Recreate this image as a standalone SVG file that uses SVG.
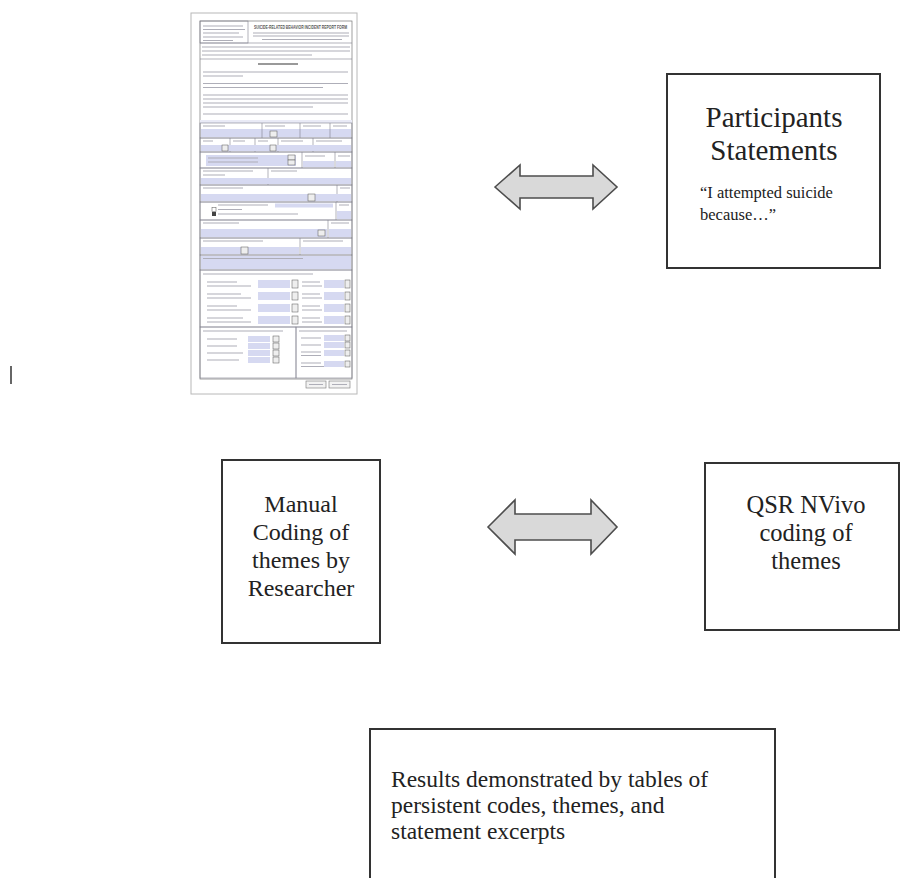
<svg xmlns="http://www.w3.org/2000/svg" width="900" height="878" viewBox="0 0 900 878">
<style>
.box{fill:#fff;stroke:#333;stroke-width:2}
.arrow{fill:#d9d9d9;stroke:#4d4d4d;stroke-width:1.6;stroke-linejoin:miter}
.lbl{font-family:"Liberation Serif","Times New Roman",serif;fill:#222}
.tl{fill:none;stroke:#aeaeb8;stroke-width:1.2}
.lav{fill:#d6d9f1}
.cell{fill:none;stroke:#80808e;stroke-width:0.6}
.dd{fill:#eeeeee;stroke:#555;stroke-width:0.5}
.cb{fill:#fff;stroke:#555;stroke-width:0.5}
</style>
<rect width="900" height="878" fill="#fff"/>

<g id="form">
  <rect x="191" y="13" width="166" height="381" fill="#fff" stroke="#b8b8b8" stroke-width="1"/>
  <rect x="200" y="21" width="152" height="358" fill="none" stroke="#777" stroke-width="0.7"/>
  <rect x="200" y="21" width="48" height="22" class="cell"/>
  <path class="tl" d="M203 26h40M203 29.5h42M203 33h36M203 37h40M203 40.5h30"/>
  <text x="254" y="29" font-family="Liberation Sans, Arial, sans-serif" font-size="6" font-weight="bold" fill="#555" textLength="93" lengthAdjust="spacingAndGlyphs">SUICIDE-RELATED BEHAVIOR INCIDENT REPORT FORM</text>
  <path class="tl" d="M253 33h96M253 36h96M262 39.5h80"/>
  <line x1="200" y1="43" x2="352" y2="43" class="cell"/>
  <path class="tl" d="M202 47h148M202 51h148M202 55h110"/>
  <line x1="200" y1="59" x2="352" y2="59" class="cell"/>
  <path d="M258 64h40" stroke="#777" stroke-width="1.6"/>
  <path class="tl" d="M203 72h145M203 76h40M203 83.5h145M203 87.5h120M203 95h145M203 99h145M203 103h145M203 107h110M203 114h145"/>
  <rect x="200" y="120" width="152" height="3" fill="#e9eaf6"/>
  <rect x="200" y="123" width="152" height="15" class="cell"/>
  <rect x="201" y="129" width="150" height="8" class="lav"/>
  <path class="cell" d="M262 123v15M300 123v15M330 123v15"/>
  <path class="tl" d="M203 126h22M265 126h20M303 126h18M333 126h14"/>
  <rect x="270" y="131" width="7" height="6" class="dd"/>

  <rect x="200" y="138" width="152" height="14" class="cell"/>
  <path class="cell" d="M230 138v14M255 138v14M278 138v14M313 138v14"/>
  <rect x="201" y="145" width="150" height="6" class="lav"/>
  <path class="tl" d="M203 141h10M233 141h12M258 141h10M281 141h22M316 141h26"/>
  <rect x="222" y="145" width="6" height="6" class="dd"/>
  <rect x="270" y="145" width="6" height="6" class="dd"/>

  <rect x="200" y="152" width="152" height="16" class="cell"/>
  <path class="cell" d="M302 152v16M335 152v16"/>
  <rect x="206" y="155" width="90" height="11" class="lav"/>
  <path class="tl" d="M208 158h50M208 162h50M305 156h20M338 156h12"/>
  <rect x="288" y="155" width="7" height="5" class="dd"/>
  <rect x="288" y="160" width="7" height="5" class="dd"/>
  <rect x="303" y="161" width="31" height="6" class="lav"/>
  <rect x="336" y="161" width="15" height="6" class="lav"/>

  <rect x="200" y="168" width="152" height="17" class="cell"/>
  <path class="cell" d="M268 168v17"/>
  <path class="tl" d="M203 171h50M203 175h22M271 171h26"/>
  <rect x="201" y="178" width="150" height="6" class="lav"/>

  <rect x="200" y="185" width="152" height="17" class="cell"/>
  <path class="cell" d="M337 185v17"/>
  <path class="tl" d="M203 188h40M340 188h10"/>
  <rect x="201" y="194" width="150" height="7" class="lav"/>
  <rect x="308" y="194" width="7" height="7" class="dd"/>

  <rect x="200" y="202" width="152" height="18" class="cell"/>
  <path class="cell" d="M336 202v18"/>
  <path class="tl" d="M218 205h50M218 209.5h24M218 214h80M339 205h10"/>
  <rect x="275" y="203.5" width="58" height="4" class="lav"/>
  <rect x="212" y="207.5" width="4" height="4" class="cb"/>
  <rect x="212" y="212" width="4" height="4" fill="#444"/>
  <rect x="337" y="211" width="14" height="8" class="lav"/>

  <rect x="200" y="220" width="152" height="18" class="cell"/>
  <path class="cell" d="M328 220v18"/>
  <path class="tl" d="M203 223h36M331 223h18"/>
  <rect x="201" y="229" width="126" height="8" class="lav"/>
  <rect x="318" y="230" width="7" height="6" class="dd"/>
  <rect x="329" y="229" width="22" height="8" class="lav"/>

  <rect x="200" y="238" width="152" height="17" class="cell"/>
  <path class="cell" d="M300 238v17"/>
  <path class="tl" d="M203 241h60M303 241h40"/>
  <rect x="201" y="247" width="98" height="7" class="lav"/>
  <rect x="241" y="247" width="7" height="7" class="dd"/>
  <rect x="301" y="247" width="50" height="7" class="lav"/>

  <rect x="200" y="255" width="152" height="15" class="cell"/>
  <rect x="201" y="256" width="150" height="13" class="lav"/>
  <path class="tl" d="M203 258.5h100"/>

  <rect x="200" y="270" width="152" height="57" class="cell"/>
  <path class="tl" d="M203 274h110"/>
  <path class="tl" d="M207 282h30M207 286h44M207 294h34M207 298h44M207 306h30M207 310h44M207 318h36M207 322h44"/>
  <rect x="258" y="280" width="32" height="8" class="lav"/>
  <rect x="258" y="292" width="32" height="8" class="lav"/>
  <rect x="258" y="304" width="32" height="8" class="lav"/>
  <rect x="258" y="316" width="32" height="8" class="lav"/>
  <rect x="292" y="280" width="6" height="8" class="dd"/>
  <rect x="292" y="292" width="6" height="8" class="dd"/>
  <rect x="292" y="304" width="6" height="8" class="dd"/>
  <rect x="292" y="316" width="6" height="8" class="dd"/>
  <path class="tl" d="M302 282h18M302 286h20M302 294h18M302 298h20M302 306h18M302 310h20M302 318h18M302 322h20"/>
  <rect x="324" y="280" width="20" height="8" class="lav"/>
  <rect x="324" y="292" width="20" height="8" class="lav"/>
  <rect x="324" y="304" width="20" height="8" class="lav"/>
  <rect x="324" y="316" width="20" height="8" class="lav"/>
  <rect x="345" y="280" width="5" height="8" class="dd"/>
  <rect x="345" y="292" width="5" height="8" class="dd"/>
  <rect x="345" y="304" width="5" height="8" class="dd"/>
  <rect x="345" y="316" width="5" height="8" class="dd"/>

  <rect x="200" y="327" width="96" height="51" class="cell"/>
  <rect x="296" y="327" width="56" height="51" class="cell"/>
  <path class="tl" d="M203 331h80M299 331h48"/>
  <path class="tl" d="M207 339h30M207 346h30M207 353h36M207 360h32"/>
  <rect x="248" y="336" width="22" height="6" class="lav"/>
  <rect x="248" y="343" width="22" height="6" class="lav"/>
  <rect x="248" y="350" width="22" height="6" class="lav"/>
  <rect x="248" y="357" width="22" height="6" class="lav"/>
  <rect x="273" y="336" width="6" height="6" class="dd"/>
  <rect x="273" y="343" width="6" height="6" class="dd"/>
  <rect x="273" y="350" width="6" height="6" class="dd"/>
  <rect x="273" y="357" width="6" height="6" class="dd"/>
  <path class="tl" d="M301 338h20M301 345h20M301 352h20M301 355.5h20M301 363h20M301 366.5h24"/>
  <rect x="324" y="335" width="20" height="6" class="lav"/>
  <rect x="324" y="342" width="20" height="6" class="lav"/>
  <rect x="324" y="350" width="20" height="6" class="lav"/>
  <rect x="324" y="361" width="20" height="6" class="lav"/>
  <rect x="345" y="335" width="5" height="6" class="dd"/>
  <rect x="345" y="342" width="5" height="6" class="dd"/>
  <rect x="345" y="350" width="5" height="6" class="dd"/>
  <rect x="345" y="361" width="5" height="6" class="dd"/>
  <rect x="306" y="381" width="20" height="7" fill="#f2f2f2" stroke="#777" stroke-width="0.6"/>
  <rect x="329" y="381" width="21" height="7" fill="#f2f2f2" stroke="#777" stroke-width="0.6"/>
  <path class="tl" d="M309 384.5h14M332 384.5h15"/>
</g>

<g id="cursor">
  <line x1="11" y1="366" x2="11" y2="384" stroke="#333" stroke-width="1.5"/>
</g>

<g id="participants">
  <rect x="667" y="74" width="213" height="194" class="box"/>
  <text class="lbl" x="774" y="127" font-size="29" text-anchor="middle">Participants</text>
  <text class="lbl" x="774" y="160" font-size="29" text-anchor="middle">Statements</text>
  <text class="lbl" x="700" y="198" font-size="16.5">“I attempted suicide</text>
  <text class="lbl" x="700" y="220" font-size="16.5">because…”</text>
</g>

<g id="manual">
  <rect x="222" y="460" width="158" height="183" class="box"/>
  <text class="lbl" x="301" y="512" font-size="24" text-anchor="middle">Manual</text>
  <text class="lbl" x="301" y="540" font-size="24" text-anchor="middle">Coding of</text>
  <text class="lbl" x="301" y="568" font-size="24" text-anchor="middle">themes by</text>
  <text class="lbl" x="301" y="596" font-size="24" text-anchor="middle">Researcher</text>
</g>

<g id="nvivo">
  <rect x="705" y="463" width="194" height="167" class="box"/>
  <text class="lbl" x="806" y="513" font-size="24.5" text-anchor="middle">QSR NVivo</text>
  <text class="lbl" x="806" y="541" font-size="24.5" text-anchor="middle">coding of</text>
  <text class="lbl" x="806" y="569" font-size="24.5" text-anchor="middle">themes</text>
</g>

<g id="results">
  <rect x="370" y="729" width="405" height="160" class="box"/>
  <text class="lbl" x="391" y="787" font-size="23.5">Results demonstrated by tables of</text>
  <text class="lbl" x="391" y="813" font-size="23.5">persistent codes, themes, and</text>
  <text class="lbl" x="391" y="839" font-size="23.5">statement excerpts</text>
</g>

<g id="connectors">
  <polygon class="arrow" points="495,187 520,165 520,176 593,176 593,165 617,187 593,209 593,198 520,198 520,209"/>
  <polygon class="arrow" points="488,527 515,500 515,514 591,514 591,500 617,527 591,554 591,540 515,540 515,554"/>
</g>
</svg>
